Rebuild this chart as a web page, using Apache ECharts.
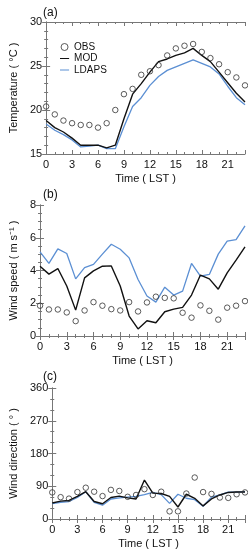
<!DOCTYPE html>
<html><head><meta charset="utf-8">
<script src="https://cdn.jsdelivr.net/npm/echarts@6/dist/echarts.min.js"></script>
<style>html,body{margin:0;padding:0;background:#fff}#c{width:248px;height:550px}</style>
</head><body><div id="c"></div>
<script>
const hours = [0,1,2,3,4,5,6,7,8,9,10,11,12,13,14,15,16,17,18,19,20,21,22,23];
const xTicks = [0,3,6,9,12,15,18,21];
const seriesNames = ['OBS','MOD','LDAPS'];
const panelLabels = ['(a)','(b)','(c)'];
const yNames = ['Temperature ( °C )','Wind speed ( m s⁻¹ )','Wind direction ( ° )'];
const yTicksA = [15,20,25,30];
const yTicksB = [0,2,4,6,8];
const yTicksC = [0,90,180,270,360];

const tempObs   = [20.4,19.5,18.8,18.5,18.3,18.3,18.0,18.5,20.0,21.8,22.4,24.0,24.4,25.1,26.2,27.0,27.3,27.5,26.6,25.9,25.2,24.3,23.7,22.8];
const tempMod   = [18.8,18.0,17.5,16.8,16.0,16.0,16.0,15.7,16.0,19.0,21.8,23.0,24.3,25.5,25.8,26.2,26.5,27.0,26.2,25.5,24.3,23.1,21.9,20.9];
const tempLdaps = [18.4,17.7,17.2,16.6,15.8,15.9,16.0,15.6,15.6,18.1,20.4,21.4,22.8,23.8,24.5,24.9,25.3,25.7,25.3,24.9,24.1,22.7,21.4,20.6];

const wsObs   = [1.85,1.62,1.62,1.44,0.91,1.56,2.07,1.85,1.64,1.56,2.07,1.5,2.05,2.4,2.33,2.3,1.42,1.12,1.87,1.54,1.0,1.73,1.85,2.13];
const wsMod   = [4.26,3.78,4.12,3.05,1.58,3.55,3.98,4.26,4.28,3.05,1.22,0.43,0.93,0.81,1.48,1.64,1.75,2.5,3.72,3.49,2.86,3.86,4.63,5.44];
const wsLdaps = [5.14,4.43,5.32,5.04,3.49,4.18,4.37,5.0,5.6,5.3,4.77,3.45,2.44,2.07,2.98,2.5,2.74,4.43,3.65,3.76,5.0,5.79,5.89,6.72];

const wdObs   = [73,60,56,74,86,75,63,80,77,61,66,82,66,75,21,21,70,114,74,69,59,58,68,73];
const wdMod   = [44,49,51,62,75,48,42,59,63,58,55,107,71,70,62,33,68,57,36,55,66,73,74,74];
const wdLdaps = [42,46,48,59,75,46,38,55,58,60,62,67,73,67,43,68,57,53,35,60,66,74,74,75];

const FONT = '"Liberation Sans", Arial, sans-serif';
const BLUE = '#5b8fd3';
const AXC = '#777';
const grids = [
  {left:38, width:207, top:22, height:132},
  {left:38, width:207, top:205, height:131},
  {left:38, width:207, top:388, height:131}
];
const yCfg = [
  {min:15,max:30,interval:5,minor:5,nameGap:24,ticks:yTicksA},
  {min:0,max:8,interval:2,minor:4,nameGap:20,ticks:yTicksB},
  {min:0,max:360,interval:90,minor:3,nameGap:27,ticks:yTicksC}
];
const xAxes=[], yAxes=[];
grids.forEach((g,i)=>{
  xAxes.push({type:'value',gridIndex:i,min:0,max:23,interval:3,
    axisLine:{lineStyle:{color:AXC,width:1}},
    axisTick:{inside:true,length:4,lineStyle:{color:AXC}},
    minorTick:{show:true,splitNumber:3,length:2,lineStyle:{color:AXC}},
    splitLine:{show:false},
    axisLabel:{color:'#111',fontSize:11,fontFamily:FONT,margin:5,
      formatter:v=>xTicks.includes(v)?String(v):''},
    name:'Time ( LST )',nameLocation:'middle',nameGap:19,
    nameTextStyle:{color:'#111',fontSize:11,fontFamily:FONT}});
  xAxes.push({type:'value',gridIndex:i,min:0,max:23,interval:3,position:'top',
    axisLine:{lineStyle:{color:AXC,width:1}},
    axisTick:{inside:true,length:4,lineStyle:{color:AXC}},
    minorTick:{show:true,splitNumber:3,length:2,lineStyle:{color:AXC}},
    splitLine:{show:false},axisLabel:{show:false}});
  const c=yCfg[i];
  yAxes.push({type:'value',gridIndex:i,min:c.min,max:c.max,interval:c.interval,
    axisLine:{show:true,lineStyle:{color:AXC,width:1}},
    axisTick:{show:true,inside:true,length:4,lineStyle:{color:AXC}},
    minorTick:{show:true,splitNumber:c.minor,length:2,lineStyle:{color:AXC}},
    splitLine:{show:false},
    axisLabel:{color:'#111',fontSize:11,fontFamily:FONT,margin:4,
      formatter:v=>c.ticks.includes(v)?String(v):''},
    name:yNames[i],nameLocation:'middle',nameGap:c.nameGap,
    nameTextStyle:{color:'#111',fontSize:11,fontFamily:FONT}});
  yAxes.push({type:'value',gridIndex:i,min:c.min,max:c.max,interval:c.interval,position:'right',
    axisLine:{show:true,lineStyle:{color:AXC,width:1}},
    axisTick:{show:true,inside:true,length:4,lineStyle:{color:AXC}},
    minorTick:{show:true,splitNumber:c.minor,length:2,lineStyle:{color:AXC}},
    splitLine:{show:false},axisLabel:{show:false}});
});
const pairs = (arr)=>hours.map((h,k)=>[h,arr[k]]);
const sets = [[tempObs,tempMod,tempLdaps],[wsObs,wsMod,wsLdaps],[wdObs,wdMod,wdLdaps]];
const series=[];
sets.forEach((s,i)=>{
  series.push({name:seriesNames[0],type:'scatter',xAxisIndex:2*i,yAxisIndex:2*i,data:pairs(s[0]),
    symbol:'circle',symbolSize:5.5,itemStyle:{color:'rgba(255,255,255,0)',borderColor:'#333',borderWidth:1},z:5});
  series.push({name:seriesNames[1],type:'line',xAxisIndex:2*i,yAxisIndex:2*i,data:pairs(s[1]),
    symbol:'none',lineStyle:{color:'#111',width:1.4},itemStyle:{color:'#111'},z:4});
  series.push({name:seriesNames[2],type:'line',xAxisIndex:2*i,yAxisIndex:2*i,data:pairs(s[2]),
    symbol:'none',lineStyle:{color:BLUE,width:1.3},itemStyle:{color:BLUE},z:3});
});
const lineIcon = 'path://M0,0L0.01,0L0.01,0.01Z M0,4.3L13,4.3L13,5.7L0,5.7Z M0,9.99L0.01,9.99L0.01,10Z';
const titles = panelLabels.map((t,i)=>({text:t,left:38,top:[2,184,366][i],
  textStyle:{fontSize:12,fontWeight:'normal',color:'#111',fontFamily:FONT}}));
const chart = echarts.init(document.getElementById('c'),null,{renderer:'canvas'});
chart.setOption({
  animation:false,
  backgroundColor:'#fff',
  title:titles,
  legend:{orient:'vertical',left:55,top:37,itemWidth:13,itemHeight:7,itemGap:1.5,
    data:[
      {name:seriesNames[0],icon:'circle',itemStyle:{color:'rgba(255,255,255,0)',borderColor:'#333',borderWidth:1}},
      {name:seriesNames[1],icon:lineIcon,itemStyle:{color:'#111',borderWidth:0}},
      {name:seriesNames[2],icon:lineIcon,itemStyle:{color:BLUE,borderWidth:0}}
    ],
    textStyle:{fontSize:10,fontFamily:FONT,color:'#111',lineHeight:9,padding:[0,0,0,-2]}},
  grid:grids,
  xAxis:xAxes,
  yAxis:yAxes,
  series:series
});
</script></body></html>
